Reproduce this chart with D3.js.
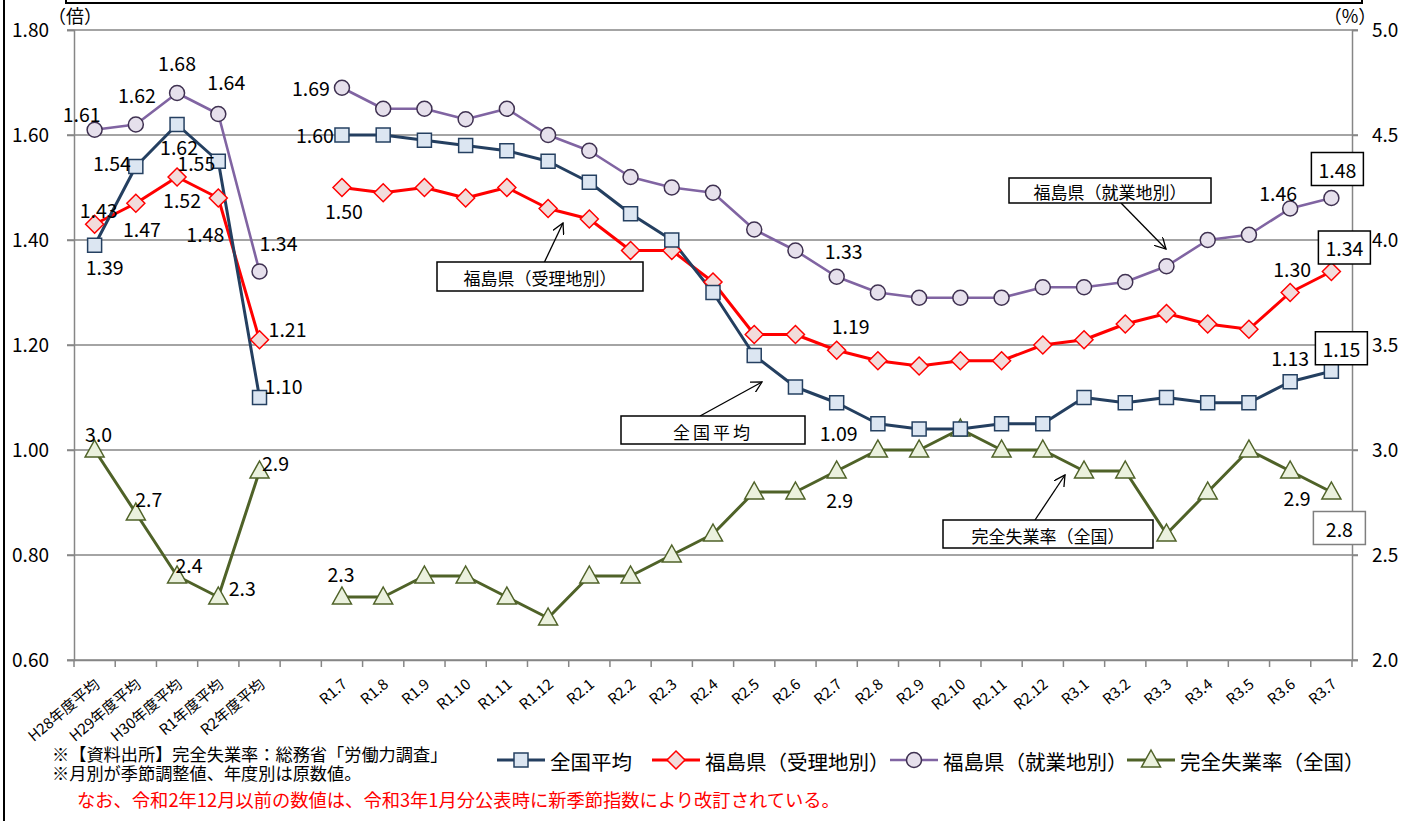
<!DOCTYPE html>
<html><head><meta charset="utf-8">
<script src="https://cdn.jsdelivr.net/npm/d3@7"></script>
<style>
body{margin:0;background:#fff;}
svg{display:block;font-family:"Noto Sans CJK JP","Noto Sans",sans-serif;}
</style>
</head><body>
<svg id="chart" width="1403" height="821"></svg>
<script>
// ---------- DATA ----------
const categories = ["H28年度平均","H29年度平均","H30年度平均","R1年度平均","R2年度平均","",
  "R1.7","R1.8","R1.9","R1.10","R1.11","R1.12",
  "R2.1","R2.2","R2.3","R2.4","R2.5","R2.6","R2.7","R2.8","R2.9","R2.10","R2.11","R2.12",
  "R3.1","R3.2","R3.3","R3.4","R3.5","R3.6","R3.7"];
const nationalAvg = [1.39,1.54,1.62,1.55,1.10,null,
  1.60,1.60,1.59,1.58,1.57,1.55,
  1.51,1.45,1.40,1.30,1.18,1.12,1.09,1.05,1.04,1.04,1.05,1.05,
  1.10,1.09,1.10,1.09,1.09,1.13,1.15];
const fukushimaJuri = [1.43,1.47,1.52,1.48,1.21,null,
  1.50,1.49,1.50,1.48,1.50,1.46,
  1.44,1.38,1.38,1.32,1.22,1.22,1.19,1.17,1.16,1.17,1.17,1.20,
  1.21,1.24,1.26,1.24,1.23,1.30,1.34];
const fukushimaShugyo = [1.61,1.62,1.68,1.64,1.34,null,
  1.69,1.65,1.65,1.63,1.65,1.60,
  1.57,1.52,1.50,1.49,1.42,1.38,1.33,1.30,1.29,1.29,1.29,1.31,
  1.31,1.32,1.35,1.40,1.41,1.46,1.48];
const unemployment = [3.0,2.7,2.4,2.3,2.9,null,
  2.3,2.3,2.4,2.4,2.3,2.2,
  2.4,2.4,2.5,2.6,2.8,2.8,2.9,3.0,3.0,3.1,3.0,3.0,
  2.9,2.9,2.6,2.8,3.0,2.9,2.8];
const leftTicks = [0.60,0.80,1.00,1.20,1.40,1.60,1.80];
const rightTicks = [2.0,2.5,3.0,3.5,4.0,4.5,5.0];
const seriesNames = ["全国平均","福島県（受理地別）","福島県（就業地別）","完全失業率（全国）"];
const footnotes = ["※【資料出所】完全失業率：総務省「労働力調査」","※月別が季節調整値、年度別は原数値。"];
const revisionNote = "なお、令和2年12月以前の数値は、令和3年1月分公表時に新季節指数により改訂されている。";

// ---------- LAYOUT ----------
const svg = d3.select("#chart");
const L = 74, R = 1352, T = 30, B = 660;
const x = d3.scaleBand().domain(categories).range([L, R]).padding(0);
const cx = c => x(c) + x.bandwidth()/2;
const yL = d3.scaleLinear().domain([0.6,1.8]).range([B,T]);
const yR = d3.scaleLinear().domain([2.0,5.0]).range([B,T]);
const gridCol = "#868686";

// frame
svg.append("line").attr("x1",4).attr("x2",4).attr("y1",0).attr("y2",821).attr("stroke","#000").attr("stroke-width",2);
svg.append("rect").attr("x",66).attr("y",-10).attr("width",1296).attr("height",13).attr("fill","none").attr("stroke","#000").attr("stroke-width",2);

// gridlines (left axis ticks)
const fmt2 = d3.format(".2f"), fmt1 = d3.format(".1f");
svg.append("g").selectAll("line").data(leftTicks).join("line")
  .attr("x1",L-7).attr("x2",R+6).attr("y1",d=>yL(d)).attr("y2",d=>yL(d))
  .attr("stroke",gridCol).attr("stroke-width",1.5);
// left axis
const axL = svg.append("g").attr("transform",`translate(${L},0)`)
  .call(d3.axisLeft(yL).tickValues(leftTicks).tickFormat(fmt2).tickSize(7).tickPadding(8));
axL.select(".domain").attr("stroke",gridCol).attr("stroke-width",1.5);
axL.selectAll(".tick line").attr("stroke",gridCol).attr("stroke-width",1.5);
axL.selectAll("text").attr("font-size",19).attr("fill","#000").attr("font-family","Noto Sans CJK JP").attr("dx",-10);
// right axis
const axR = svg.append("g").attr("transform",`translate(${R},0)`)
  .call(d3.axisRight(yR).tickValues(rightTicks).tickFormat(fmt1).tickSize(6).tickPadding(14));
axR.select(".domain").attr("stroke",gridCol).attr("stroke-width",1.5);
axR.selectAll(".tick line").attr("stroke",gridCol).attr("stroke-width",1.5);
axR.selectAll("text").attr("font-size",19).attr("fill","#000").attr("font-family","Noto Sans CJK JP");
// bottom axis
const axB = svg.append("g").attr("transform",`translate(0,${B})`)
  .call(d3.axisBottom(x).tickSize(0).tickFormat(""));
axB.select(".domain").attr("stroke",gridCol).attr("stroke-width",1.5);
svg.append("g").selectAll("line").data(categories.map(c=>x(c)).concat([R])).join("line")
  .attr("x1",d=>d).attr("x2",d=>d).attr("y1",B).attr("y2",B+7).attr("stroke",gridCol).attr("stroke-width",1.5);
svg.append("g").selectAll("text").data(categories.filter(c=>c!=="")).join("text")
  .attr("transform",c=>`translate(${cx(c)+2},${B+21}) rotate(-40)`)
  .attr("text-anchor","end").attr("dominant-baseline","central")
  .attr("font-size",15).text(c=>c);

// unit labels
svg.append("text").attr("x",75).attr("y",23).attr("font-size",18).attr("text-anchor","middle").text("（倍）");
svg.append("text").attr("x",1350).attr("y",23).attr("font-size",18).attr("text-anchor","middle").text("（%）");

// ---------- SERIES ----------
const series = [
  {name:seriesNames[0], vals:nationalAvg, y:yL, line:"#243F60", lw:3, mk:"square", fill:"#DCE6F2", stroke:"#254061", fmt:fmt2},
  {name:seriesNames[1], vals:fukushimaJuri, y:yL, line:"#FF0000", lw:3, mk:"diamond", fill:"#F2DCDB", stroke:"#FF0000", fmt:fmt2},
  {name:seriesNames[2], vals:fukushimaShugyo, y:yL, line:"#8064A2", lw:2.6, mk:"circle", fill:"#E6E0EC", stroke:"#3F3151", fmt:fmt2},
  {name:seriesNames[3], vals:unemployment, y:yR, line:"#4F6228", lw:3, mk:"triangle", fill:"#EBF1DE", stroke:"#4F6228", fmt:fmt1}
];
function marker(g, type, fill, stroke){
  if(type==="square") g.append("rect").attr("x",-7).attr("y",-7).attr("width",14).attr("height",14).attr("fill",fill).attr("stroke",stroke).attr("stroke-width",1.5);
  else if(type==="diamond") g.append("path").attr("d","M0,-9L9,0L0,9L-9,0Z").attr("fill",fill).attr("stroke",stroke).attr("stroke-width",1.5);
  else if(type==="circle") g.append("circle").attr("r",7.5).attr("fill",fill).attr("stroke",stroke).attr("stroke-width",1.5);
  else g.append("path").attr("d","M0,-10L9.5,7L-9.5,7Z").attr("fill",fill).attr("stroke",stroke).attr("stroke-width",1.5);
}
// draw order: green, purple, red, blue (blue on top)
[3,2,1,0].forEach(si=>{
  const s = series[si];
  const pts = categories.map((c,i)=>({c, v:s.vals[i]}));
  const line = d3.line().defined(d=>d.v!=null).x(d=>cx(d.c)).y(d=>s.y(d.v));
  svg.append("path").datum(pts).attr("d",line).attr("fill","none").attr("stroke",s.line).attr("stroke-width",s.lw).attr("stroke-linejoin","round");
});
[3,2,1,0].forEach(si=>{
  const s = series[si];
  categories.forEach((c,i)=>{
    if(s.vals[i]==null) return;
    const g = svg.append("g").attr("transform",`translate(${cx(c)},${s.y(s.vals[i])})`);
    marker(g, s.mk, s.fill, s.stroke);
  });
});

// ---------- DATA LABELS (series index, category, dx, dy, boxed) ----------
const labelPlacements = [
  [0,"H28年度平均",10,21],[0,"H29年度平均",-24,-4],[0,"H30年度平均",2,22],[0,"R1年度平均",-22,1],[0,"R2年度平均",24,-12],
  [0,"R1.7",-27,-1],[0,"R2.7",2,30],[0,"R3.6",0,-24],[0,"R3.7",10,-23,true],
  [1,"H28年度平均",4,-15],[1,"H29年度平均",6,25],[1,"H30年度平均",5,22],[1,"R1年度平均",-13,35],[1,"R2年度平均",28,-11],
  [1,"R1.7",2,23],[1,"R2.7",14,-25],[1,"R3.6",2,-24],[1,"R3.7",13,-24,true],
  [2,"H28年度平均",-13,-16],[2,"H29年度平均",1,-30],[2,"H30年度平均",0,-31],[2,"R1年度平均",8,-33],[2,"R2年度平均",19,-29],
  [2,"R1.7",-31,0],[2,"R2.7",7,-26],[2,"R3.6",-12,-16],[2,"R3.7",6,-29,true],
  [3,"H28年度平均",4,-17],[3,"H29年度平均",13,-15],[3,"H30年度平均",12,-12],[3,"R1年度平均",24,-10],[3,"R2年度平均",16,-9],
  [3,"R1.7",-1,-24],[3,"R2.7",3,28],[3,"R3.6",7,26],[3,"R3.7",8,36,true]
];
labelPlacements.forEach(([si,c,dx,dy,boxed])=>{
  const s = series[si], i = categories.indexOf(c);
  const px = cx(c)+dx, py = s.y(s.vals[i])+dy;
  if(boxed){
    svg.append("rect").attr("x",px-26).attr("y",py-16.5).attr("width",52).attr("height",33)
      .attr("fill","#fff").attr("stroke",si===3?"#7f7f7f":"#000").attr("stroke-width",1.5);
  }
  svg.append("text").attr("x",px).attr("y",py).attr("text-anchor","middle").attr("dominant-baseline","central")
    .attr("font-size",19.5).attr("fill","#000").text(s.fmt(s.vals[i]));
});

// ---------- CALLOUTS ----------
svg.append("defs").append("marker").attr("id","arr").attr("viewBox","0 0 12 12").attr("refX",11).attr("refY",6)
  .attr("markerWidth",12).attr("markerHeight",12).attr("markerUnits","userSpaceOnUse").attr("orient","auto")
  .append("path").attr("d","M0,0L11,6L0,12").attr("fill","none").attr("stroke","#000").attr("stroke-width",1.3);
const callouts = [
  {text:seriesNames[1], x0:437, y0:262, w:206, h:29, ax1:544, ay1:263, ax2:563, ay2:223},
  {text:seriesNames[0], x0:621, y0:416, w:184, h:28, ax1:700, ay1:416, ax2:762, ay2:382, ls:3},
  {text:seriesNames[3], x0:943, y0:520, w:210, h:28, ax1:1035, ay1:520, ax2:1065, ay2:475},
  {text:seriesNames[2], x0:1009, y0:178, w:202, h:25, ax1:1121, ay1:203, ax2:1166, ay2:249}
];
callouts.forEach(o=>{
  svg.append("line").attr("x1",o.ax1).attr("y1",o.ay1).attr("x2",o.ax2).attr("y2",o.ay2)
    .attr("stroke","#000").attr("stroke-width",1.3).attr("marker-end","url(#arr)");
  svg.append("rect").attr("x",o.x0).attr("y",o.y0).attr("width",o.w).attr("height",o.h)
    .attr("fill","#fff").attr("stroke","#000").attr("stroke-width",1.5);
  svg.append("text").attr("x",o.x0+o.w/2).attr("y",o.y0+o.h/2+1).attr("text-anchor","middle").attr("dominant-baseline","central")
    .attr("font-size",17).attr("letter-spacing",o.ls||0).text(o.text);
});

// ---------- LEGEND ----------
const legendX = [497, 652, 890, 1127];
series.forEach((s,i)=>{
  const g = svg.append("g").attr("transform",`translate(${legendX[i]},760)`);
  g.append("line").attr("x1",0).attr("x2",48).attr("stroke",s.line).attr("stroke-width",s.lw);
  const m = g.append("g").attr("transform","translate(24,0)");
  marker(m, s.mk, s.fill, s.stroke);
  g.append("text").attr("x",53).attr("y",1).attr("dominant-baseline","central").attr("font-size",20.5).text(s.name);
});

// ---------- FOOTNOTES ----------
footnotes.forEach((t,i)=>{
  svg.append("text").attr("x",52).attr("y",761+i*19).attr("font-size",17.2).text(t);
});
svg.append("text").attr("x",77).attr("y",807).attr("font-size",18.3).attr("fill","#FF0000").text(revisionNote);
</script>
</body></html>
